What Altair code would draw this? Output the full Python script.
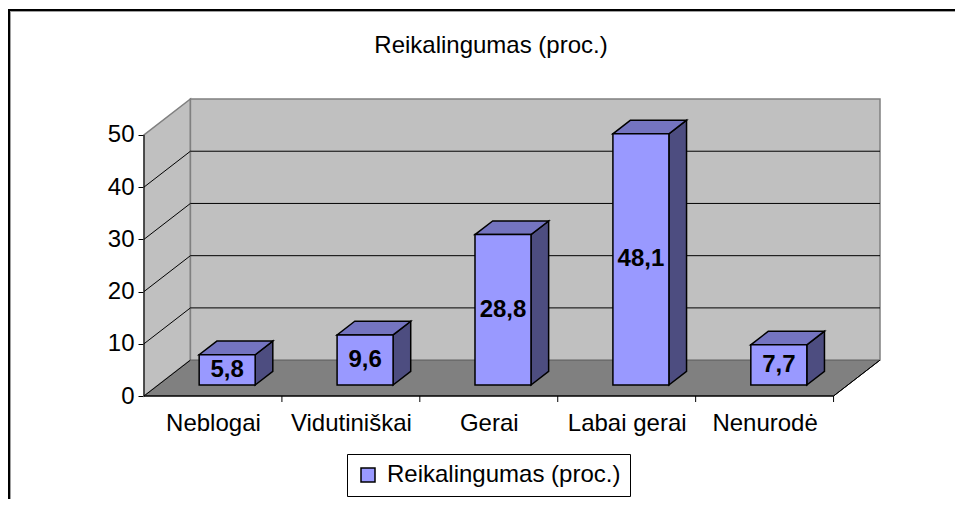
import json
import altair as alt
import pandas as pd

# ---- data ----
categories = ["Neblogai", "Vidutiniškai", "Gerai", "Labai gerai", "Nenurodė"]
values = [5.8, 9.6, 28.8, 48.1, 7.7]
y_ticks = [0, 10, 20, 30, 40, 50]
series_name = "Reikalingumas (proc.)"
chart_title = "Reikalingumas (proc.)"

# ---- 3-D geometry (styles, in scale units) ----
DX = 0.3367      # depth shift along x (category units)
DY = 6.87        # depth shift along y (value units)
T0 = 0.306       # depth fraction of bar front face
T1 = 0.686       # depth fraction of bar back face
BW = 0.406       # bar width (category units)
X0 = -0.5
X1 = len(categories) - 0.5
YTOP = y_ticks[-1]

FONT = "Liberation Sans"
FRONT = "#9999FF"
TOPC = "#7474C0"
SIDE = "#4D4D80"
WALL = "#C0C0C0"
FLOOR = "#808080"
EDGE = "#808080"

xs = alt.Scale(domain=[X0, X1 + DX], nice=False, zero=False)
ys = alt.Scale(domain=[0, YTOP + DY], nice=False, zero=False)

x_axis = alt.Axis(
    values=list(range(len(categories))),
    labelExpr=json.dumps(categories, ensure_ascii=False) + "[datum.value]",
    ticks=False, domain=False, grid=False, title=None,
    labelFont=FONT, labelFontSize=24, labelColor="black",
    labelPadding=15, labelOverlap=False, labelFlush=False,
)
y_axis = alt.Axis(
    values=y_ticks, tickSize=6, tickColor="black", tickWidth=1,
    domain=False, grid=False, title=None,
    labelFont=FONT, labelFontSize=24, labelColor="black", labelPadding=4,
)


def X(f):
    return alt.X(f, type="quantitative", scale=xs, axis=x_axis)


def Y(f):
    return alt.Y(f, type="quantitative", scale=ys, axis=y_axis)


# ---- tables built from the arrays ----
front_rows, side_rows, top_rows = [], [], []
for i, (c, v) in enumerate(zip(categories, values)):
    cx0 = i + T0 * DX
    cx1 = i + T1 * DX
    front_rows.append(dict(cat=c, x=cx0 - BW / 2, x2=cx0 + BW / 2,
                           y=T0 * DY, y2=T0 * DY + v, ym=T0 * DY + v / 2,
                           xc=cx0, series=series_name,
                           label=f"{v:.1f}".replace(".", ",")))
    side_rows += [dict(cat=c, x=cx0 + BW / 2, y=T0 * DY, y2=T0 * DY + v),
                  dict(cat=c, x=cx1 + BW / 2, y=T1 * DY, y2=T1 * DY + v)]
    top_rows += [dict(cat=c, y=T0 * DY + v, x=cx0 - BW / 2, x2=cx0 + BW / 2),
                 dict(cat=c, y=T1 * DY + v, x=cx1 - BW / 2, x2=cx1 + BW / 2)]
front_df = pd.DataFrame(front_rows)
side_df = pd.DataFrame(side_rows)
top_df = pd.DataFrame(top_rows)

left_wall = pd.DataFrame(dict(x=[X0, X0 + DX], y=[0, DY], y2=[YTOP, YTOP + DY]))
back_wall = pd.DataFrame(dict(x=[X0 + DX], x2=[X1 + DX], y=[DY], y2=[YTOP + DY]))
floor = pd.DataFrame(dict(y=[0, DY], x=[X0, X0 + DX], x2=[X1, X1 + DX]))
back_grid = pd.DataFrame(dict(x=X0 + DX, x2=X1 + DX, y=[t + DY for t in y_ticks[1:-1]]))
side_grid = pd.DataFrame(dict(x=X0, x2=X0 + DX, y=y_ticks[:-1],
                              y2=[t + DY for t in y_ticks[:-1]]))
floor_edge = pd.DataFrame(dict(x=[X1], x2=[X1 + DX], y=[0], y2=[DY]))
y_line = pd.DataFrame(dict(x=[X0], y=[0], y2=[YTOP]))
x_line = pd.DataFrame(dict(x=[X0], x2=[X1], y=[0]))
x_ticks = pd.DataFrame(dict(x=[i + 0.5 for i in range(len(categories))], y=0, y2=-1.15))
one = pd.DataFrame(dict(a=[0]))

# outer chart frame: only top and left edges are inside the picture
frame_left = alt.Chart(one).mark_rule(color="black", strokeWidth=2).encode(
    x=alt.value(-135), y=alt.value(-90), y2=alt.value(430))
frame_top = alt.Chart(one).mark_rule(color="black", strokeWidth=2).encode(
    x=alt.value(-136), x2=alt.value(830), y=alt.value(-89))
frame_left2 = alt.Chart(one).mark_rule(color="#A0A0A0", strokeWidth=1).encode(
    x=alt.value(-133.5), y=alt.value(-88), y2=alt.value(430))
frame_top2 = alt.Chart(one).mark_rule(color="#A0A0A0", strokeWidth=1).encode(
    x=alt.value(-134), x2=alt.value(830), y=alt.value(-87.5))

floor_l = alt.Chart(floor).mark_area(orient="horizontal", fill=FLOOR, stroke="black",
                                     strokeWidth=1).encode(y=Y("y"), x=X("x"), x2="x2")
lwall_l = alt.Chart(left_wall).mark_area(fill=WALL, stroke=EDGE, strokeWidth=1.5).encode(
    x=X("x"), y=Y("y"), y2="y2")
bwall_l = alt.Chart(back_wall).mark_rect(fill=WALL, stroke=EDGE, strokeWidth=1.5).encode(
    x=X("x"), x2="x2", y=Y("y"), y2="y2")
bgrid_l = alt.Chart(back_grid).mark_rule(color="black", strokeWidth=1).encode(
    x=X("x"), x2="x2", y=Y("y"))
sgrid_l = alt.Chart(side_grid).mark_rule(color="black", strokeWidth=1).encode(
    x=X("x"), x2="x2", y=Y("y"), y2="y2")
fedge_l = alt.Chart(floor_edge).mark_rule(color="black", strokeWidth=1).encode(
    x=X("x"), x2="x2", y=Y("y"), y2="y2")
yline_l = alt.Chart(y_line).mark_rule(color="black", strokeWidth=1).encode(
    x=X("x"), y=Y("y"), y2="y2")
xline_l = alt.Chart(x_line).mark_rule(color="black", strokeWidth=1).encode(
    x=X("x"), x2="x2", y=Y("y"))
xtick_l = alt.Chart(x_ticks).mark_rule(color="black", strokeWidth=1).encode(
    x=X("x"), y=Y("y"), y2="y2")

side_l = alt.Chart(side_df).mark_area(fill=SIDE, stroke="black", strokeWidth=1.5,
                                      strokeJoin="miter").encode(
    x=X("x"), y=Y("y"), y2="y2", detail="cat:N")
top_l = alt.Chart(top_df).mark_area(orient="horizontal", fill=TOPC, stroke="black",
                                    strokeWidth=1.5, strokeJoin="miter").encode(
    y=Y("y"), x=X("x"), x2="x2", detail="cat:N")
front_l = alt.Chart(front_df).mark_rect(stroke="black", strokeWidth=1.5, opacity=1).encode(
    x=X("x"), x2="x2", y=Y("y"), y2="y2",
    color=alt.Color("series:N",
                    scale=alt.Scale(domain=[series_name], range=[FRONT]),
                    legend=alt.Legend(title=None, orient="none", legendX=203, legendY=355,
                                      strokeColor="black", padding=9, symbolType="square",
                                      symbolSize=196, symbolStrokeColor="black",
                                      symbolStrokeWidth=1.5, labelFont=FONT,
                                      labelFontSize=24, labelColor="black", labelOffset=7,
                                      labelLimit=0)))
label_l = alt.Chart(front_df).mark_text(font=FONT, fontSize=24, fontWeight="bold",
                                        color="black", align="center",
                                        baseline="middle").encode(
    x=X("xc"), y=Y("ym"), text="label:N")

title_l = alt.Chart(one).mark_text(text=chart_title, font=FONT, fontSize=24, color="black",
                                   align="center", baseline="alphabetic").encode(
    x=alt.value(347), y=alt.value(-46))

chart = alt.layer(
    frame_left, frame_top, frame_left2, frame_top2, title_l,
    floor_l, lwall_l, bwall_l, bgrid_l, sgrid_l, fedge_l,
    yline_l, xline_l, xtick_l,
    side_l, top_l, front_l, label_l,
).properties(
    width=736, height=297,
    autosize=alt.AutoSizeParams(type="none"),
    padding={"left": 136, "top": 91, "right": 75, "bottom": 103},
    background="white",
).configure_view(stroke=None)

chart.save("out.html", embed_options={"renderer": "svg", "actions": False})
